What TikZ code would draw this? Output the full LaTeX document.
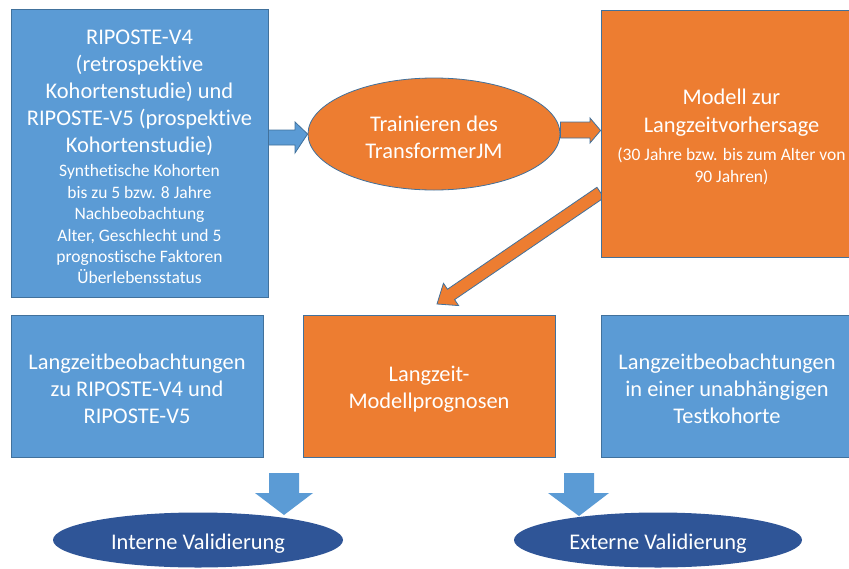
\documentclass[tikz,border=0pt]{standalone}
\usepackage{fontspec}
\setmainfont{Carlito}[Ligatures={NoCommon}]
\usetikzlibrary{shapes.geometric,calc}
\definecolor{bluefill}{HTML}{5B9BD5}
\definecolor{blueline}{HTML}{41719C}
\definecolor{orangefill}{HTML}{ED7D31}
\definecolor{darkblue}{HTML}{2F5597}
\newcommand{\smalltxt}{\fontsize{17.5}{27}\selectfont}
\newcommand{\tstrut}{\rule{0pt}{22pt}}
\begin{document}
\begin{tikzpicture}[x=1pt,y=-1pt,
  bigtxt/.style={font=\fontsize{22.4}{27}\selectfont},
  boxbase/.style={rectangle,draw=blueline,line width=0.8pt,text=white,align=center,inner sep=0pt,bigtxt},
  bluebox/.style={boxbase,fill=bluefill},
  orangebox/.style={boxbase,fill=orangefill},
  orangeell/.style={ellipse,draw=blueline,line width=0.8pt,fill=orangefill,text=white,align=center,inner sep=0pt,bigtxt},
  valell/.style={ellipse,fill=darkblue,text=white,inner sep=0pt,bigtxt},
  bluearrow/.style={fill=bluefill,draw=blueline,line width=0.8pt},
  orangearrow/.style={fill=orangefill,draw=blueline,line width=0.8pt},
  downarrow/.style={fill=bluefill,draw=none}]
\useasboundingbox (0,0) rectangle (849,568);
\clip (0,0) rectangle (849,568);

% diagonal arrow (behind the box)
\coordinate (tail) at (600.5,192.5);
\coordinate (tip) at (437,304);
\coordinate (hb) at ($(tip)!17pt!(tail)$);
\draw[orangearrow] ($(tail)!6.3pt!90:(tip)$) -- ($(hb)!6.3pt!-90:(tail)$) -- ($(hb)!13.5pt!-90:(tail)$) -- (tip)
  -- ($(hb)!13.5pt!90:(tail)$) -- ($(hb)!6.3pt!90:(tail)$) -- ($(tail)!6.3pt!-90:(tip)$) -- cycle;

% top row
\node[bluebox,minimum width=257,minimum height=288] (src) at (139.5,153.5)
  {\tstrut RIPOSTE-V4\\(retrospektive\\Kohortenstudie) und\\RIPOSTE-V5 (prospektive\\Kohortenstudie)\\[-3pt]
   \smalltxt Synthetische Kohorten\\[-5.6pt]\smalltxt bis zu 5 bzw. 8 Jahre\\[-5.6pt]\smalltxt Nachbeobachtung\\[-5.6pt]\smalltxt Alter, Geschlecht und 5\\[-5.6pt]\smalltxt prognostische Faktoren\\[-5.6pt]\smalltxt Überlebensstatus};
\node[orangeell,minimum width=252,minimum height=112] (train) at (434,134)
  {\tstrut Trainieren des\\TransformerJM};
\node[orangebox,minimum width=261,minimum height=247] (model) at (731.5,133.5)
  {\tstrut Modell zur\\[1pt]Langzeitvorhersage\\[1pt]
   \smalltxt (30 Jahre bzw. bis zum Alter von\\[-5pt]\smalltxt 90 Jahren)};

% bottom row
\node[bluebox,minimum width=252,minimum height=142] (obsint) at (137,386)
  {\tstrut Langzeitbeobachtungen\\zu RIPOSTE-V4 und\\RIPOSTE-V5};
\node[orangebox,minimum width=252,minimum height=142] (prog) at (429,386)
  {\tstrut Langzeit-\\Modellprognosen};
\node[bluebox,minimum width=252,minimum height=142] (obsext) at (727,386)
  {\tstrut Langzeitbeobachtungen\\in einer unabhängigen\\Testkohorte};

\node[valell,minimum width=290,minimum height=55] (intval) at (198,540) {\tstrut Interne Validierung};
\node[valell,minimum width=288,minimum height=55] (extval) at (658,540) {\tstrut Externe Validierung};

% block arrows
\draw[bluearrow] (src.east |- 0,130) -- (295,130) -- (295,122) -- (train.west) -- (295,153) -- (295,145) -- (src.east |- 0,145) -- cycle;
\draw[orangearrow] (train.east |- 0,122) -- (590,122) -- (590,118) -- (model.west |- 0,130.5) -- (590,143) -- (590,138) -- (train.east |- 0,138) -- cycle;

\fill[downarrow] (269,473) -- (299,473) -- (299,493) -- (313,493) -- (284,515) -- (255,493) -- (269,493) -- cycle;
\fill[downarrow] (564,473) -- (594,473) -- (594,493) -- (609,493) -- (579,516) -- (548,493) -- (564,493) -- cycle;
\end{tikzpicture}
\end{document}
